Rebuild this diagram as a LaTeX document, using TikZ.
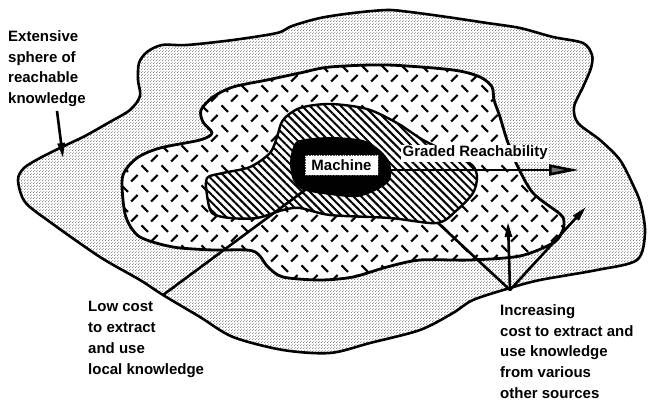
\documentclass[tikz,border=0pt]{standalone}
\usepackage{fontspec}
\setmainfont{Liberation Sans}
\usetikzlibrary{patterns,patterns.meta,arrows.meta}

\tikzdeclarepattern{
  name=stipple,
  type=uncolored,
  bounding box={(0pt,0pt) and (3pt,3pt)},
  tile size={(3pt,3pt)},
  code={
    \fill (0.75pt,0.75pt) circle (0.5pt);
    \fill (2.25pt,2.25pt) circle (0.5pt);
  }
}
\tikzdeclarepattern{
  name=dashtile,
  type=uncolored,
  bounding box={(0pt,0pt) and (20pt,20pt)},
  tile size={(20pt,20pt)},
  code={
    \draw[line width=2.2pt] (1.6pt,18.4pt) -- (8.4pt,11.6pt);
    \draw[line width=2.2pt] (11.6pt,1.6pt) -- (18.4pt,8.4pt);
  }
}

\begin{document}
\begin{tikzpicture}[x=1pt,y=-1pt,
  region/.style={line width=2.6pt, line join=round},
  lbl/.style={font=\fontsize{15}{20.75}\selectfont\bfseries, align=left, inner sep=0pt},
  pointer/.style={line width=2.6pt, line cap=round},
  smallhead/.style={-{Triangle[length=15pt,width=7pt]}},
  bighead/.style={-{Triangle[length=30pt,width=11pt,fill=black!55]}}
]
\useasboundingbox (0,0) rectangle (653,403);

% outer sphere (stippled)
\draw[region, preaction={fill=white}, pattern=stipple, pattern color=black!80]
  plot[smooth cycle, tension=0.5] coordinates {
  (18,180) (24,168) (40,158) (62,147) (85,136) (108,123) (130,110) (140,96)
  (138,80) (139,63) (147,52) (162,45) (187,45) (233,40) (277,33) (292,26)
  (320,18) (353,13) (387,10) (410,12) (447,17) (487,23) (520,28) (553,37)
  (583,43) (592,55) (591,68) (583,87) (574,107) (578,123) (600,140) (620,160)
  (634,187) (641,205) (645,233) (637,260) (597,270) (540,280) (510,288)
  (473,300) (453,313) (420,330) (370,343) (330,353) (283,350) (233,337)
  (200,317) (163,295) (140,280) (100,257) (50,222) (25,202)};

% middle region (dashes)
\draw[region, line width=2.8pt, preaction={fill=white}, pattern=dashtile, pattern color=black]
  plot[smooth cycle, tension=0.5] coordinates {
  (123,200) (123,175) (137,158) (160,148) (200,140) (212,133) (203,122)
  (201,110) (213,97) (233,87) (267,80) (300,73) (330,67) (387,65) (453,70)
  (480,77) (492,87) (494,100) (500,117) (507,140) (517,165) (533,193)
  (560,214) (564,222) (562,232) (553,243) (520,256) (470,260) (420,260) (387,267)
  (353,277) (320,280) (283,277) (268,267) (253,251) (213,250) (173,247)
  (140,237) (127,220)};

% inner region (hatched)
\draw[region, line width=2.4pt, preaction={fill=white},
      pattern={Lines[angle=-45,distance=5.5pt,line width=2pt]}, pattern color=black]
  plot[smooth cycle, tension=0.5] coordinates {
  (207,178) (223,173) (250,167) (270,153) (277,137) (283,120) (300,108)
  (330,104) (367,109) (397,123) (423,140) (450,153) (472,165) (477,177)
  (473,193) (457,210) (437,223) (390,218) (330,215) (300,208) (283,210)
  (257,218) (230,218) (212,213) (207,195)};

% black core
\fill[black] plot[smooth cycle, tension=0.5] coordinates {
  (290,163) (293,147) (300,140) (330,137) (363,140) (380,150) (390,163)
  (390,180) (377,190) (357,197) (330,195) (303,190) (293,180)};

\node[lbl, fill=white, draw=black!70, densely dotted, line width=0.6pt,
      minimum width=73pt, minimum height=20pt] (machine) at (341.5,165) {Machine};

% graded reachability arrow
\coordinate (grS) at (390,170);
\coordinate (grE) at (579,170);
\draw[pointer, line cap=butt, bighead] (grS) -- (grE);
\node[lbl, fill=white, inner sep=1.5pt, anchor=base west] (graded) at (401,157) {Graded Reachability};

% labels
\node[lbl, anchor=north west] (ext) at (8,30.3) {Extensive\\sphere of\\reachable\\knowledge};
\node[lbl, anchor=north west] (low) at (88,301.3) {Low cost\\to extract\\and use\\local knowledge};
\node[lbl, anchor=north west] (inc) at (500,304.3) {Increasing\\cost to extract and\\use knowledge\\from various\\other sources};

% pointers
\coordinate (extA) at (57,111);
\coordinate (extB) at (63,158);
\draw[pointer, line cap=butt, smallhead] (extA) -- (extB);

\coordinate (lowA) at (163,295);
\coordinate (lowB) at (305,190);
\draw[pointer] (lowA) -- (lowB);

\coordinate (incA) at (510,290);
\coordinate (incB) at (438,223);
\coordinate (incC) at (508,222);
\coordinate (incD) at (586,207);
\draw[pointer] (incA) -- (incB);
\draw[pointer, line cap=butt, smallhead] (incA) -- (incC);
\draw[pointer, line cap=butt, smallhead] (incA) -- (incD);
\end{tikzpicture}
\end{document}
